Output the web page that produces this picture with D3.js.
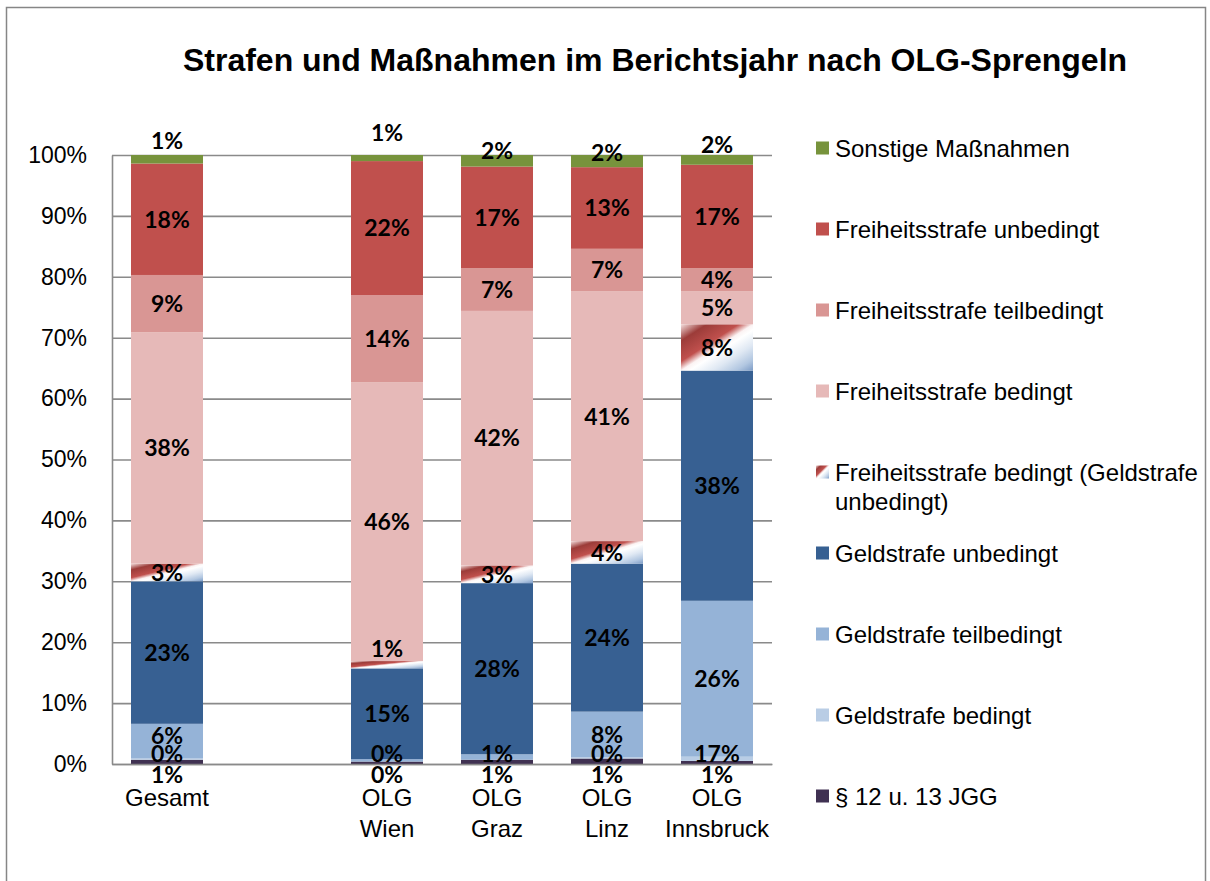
<!DOCTYPE html>
<html>
<head>
<meta charset="utf-8">
<script src="https://cdn.jsdelivr.net/npm/d3@7"></script>
<style>
  body { margin: 0; background: #fff; }
  #container { width: 1210px; height: 881px; }
</style>
</head>
<body>
<div id="container"></div>
<script>
// categories (one empty slot between Gesamt and the OLG bars)
const categories = ["Gesamt", "", "OLG Wien", "OLG Graz", "OLG Linz", "OLG Innsbruck"]
const bars = ["Gesamt", "OLG Wien", "OLG Graz", "OLG Linz", "OLG Innsbruck"]

// series values in %, bottom to top, one entry per bar
const jgg            = [0.7, 0.4, 0.7, 0.9, 0.5]
const geldBedingt    = [0.2, null, null, 0.2, 0.7]
const geldTeil       = [5.7, 0.4, 0.9, 7.5, 25.6]
const geldUnbedingt  = [23.4, 14.9, 28.1, 24.3, 37.8]
const fsBedGeldUnbed = [2.9, 1.2, 2.9, 3.7, 7.6]
const fsBedingt      = [38.0, 45.8, 41.8, 41.0, 5.4]
const fsTeil         = [9.4, 14.3, 7.0, 7.0, 3.8]
const fsUnbedingt    = [18.3, 22.0, 16.7, 13.4, 17.0]
const sonstige       = [1.4, 1.0, 1.9, 2.0, 1.6]

const seriesNames = [
  "§ 12 u. 13 JGG",
  "Geldstrafe bedingt",
  "Geldstrafe teilbedingt",
  "Geldstrafe unbedingt",
  "Freiheitsstrafe bedingt (Geldstrafe unbedingt)",
  "Freiheitsstrafe bedingt",
  "Freiheitsstrafe teilbedingt",
  "Freiheitsstrafe unbedingt",
  "Sonstige Maßnahmen"
]
const seriesValues = [jgg, geldBedingt, geldTeil, geldUnbedingt, fsBedGeldUnbed, fsBedingt, fsTeil, fsUnbedingt, sonstige]
const seriesColors = ["#403152", "#b9cde5", "#95b3d7", "#376092", "url(#mix)", "#e6b9b8", "#d99694", "#c0504d", "#77933c"]

// legend lines (top to bottom)
const legendLines = [
  ["Sonstige Maßnahmen"],
  ["Freiheitsstrafe unbedingt"],
  ["Freiheitsstrafe teilbedingt"],
  ["Freiheitsstrafe bedingt"],
  ["Freiheitsstrafe bedingt (Geldstrafe", "unbedingt)"],
  ["Geldstrafe unbedingt"],
  ["Geldstrafe teilbedingt"],
  ["Geldstrafe bedingt"],
  ["§ 12 u. 13 JGG"]
]

// label shown in the original that does not match its segment
const labelOverride = {"OLG Innsbruck|Geldstrafe bedingt": "17%"}

const yTicks = d3.range(0, 101, 10)

const width = 1210
const height = 881

const rows = bars.map((b, i) => {
  const r = {cat: b}
  seriesNames.forEach((s, j) => { r[s] = seriesValues[j][i] })
  return r
})

const svg = d3.select("#container")
    .append("svg")
    .attr("width", width)
    .attr("height", height)
    .style("font-family", "'Liberation Sans', Arial, sans-serif")

const defs = svg.append("defs")
const grad = defs.append("linearGradient")
    .attr("id", "mix")
    .attr("x1", 0).attr("y1", 0).attr("x2", 1).attr("y2", 1)
const stops = [
  [0, "#f3dedd"], [0.18, "#9c3c39"], [0.4, "#c0504d"], [0.5, "#fbf3f3"],
  [0.56, "#ffffff"], [0.72, "#dfe8f3"], [0.88, "#b2c7e1"], [1, "#7d9cc6"]
]
grad.selectAll("stop").data(stops).enter().append("stop")
    .attr("offset", d => d[0])
    .attr("stop-color", d => d[1])

// outer frame
svg.append("rect")
    .attr("x", 6.5).attr("y", 7.5)
    .attr("width", 1199).attr("height", 900)
    .attr("fill", "none")
    .attr("stroke", "#868686")
    .attr("stroke-width", 1.5)

svg.append("text")
    .attr("x", 655)
    .attr("y", 71)
    .attr("text-anchor", "middle")
    .style("font-size", "32px")
    .style("font-weight", "bold")
    .text("Strafen und Maßnahmen im Berichtsjahr nach OLG-Sprengeln")

const x = d3.scaleBand()
    .domain(categories)
    .range([112, 772])
    .paddingInner(0.3455)
    .paddingOuter(0.3455 / 2)

const y = d3.scaleLinear()
    .domain([0, 100])
    .range([764, 155])

// gridlines
svg.append("g")
    .attr("transform", "translate(112,0)")
    .call(d3.axisLeft(y).tickValues(yTicks).tickSize(-660).tickFormat(""))
    .call(g => g.select(".domain").remove())
    .call(g => g.selectAll("line").attr("stroke", "#8a8a8a").attr("stroke-width", 1.6))

svg.append("g")
    .attr("transform", "translate(112,0)")
    .call(d3.axisLeft(y).tickValues(yTicks).tickSize(0).tickPadding(25).tickFormat(d => d + "%"))
    .call(g => g.select(".domain").attr("stroke", "#8a8a8a").attr("stroke-width", 1.6))
    .call(g => g.selectAll("text")
        .style("font-size", "23px")
        .style("font-family", "'Liberation Sans', Arial, sans-serif")
        .attr("fill", "#000"))

const stack = d3.stack()
    .keys(seriesNames)
    .value((d, k) => d[k] || 0)
const stacked = stack(rows)

svg.append("g")
    .selectAll("g")
    .data(stacked)
    .enter().append("g")
    .attr("fill", (d, i) => seriesColors[i])
    .selectAll("rect")
    .data(d => d)
    .enter().append("rect")
    .attr("x", d => x(d.data.cat))
    .attr("y", d => y(d[1]))
    .attr("width", x.bandwidth())
    .attr("height", d => y(d[0]) - y(d[1]))

// bottom axis line
svg.append("g")
    .attr("transform", "translate(0,764)")
    .call(d3.axisBottom(x).tickSize(0).tickFormat(""))
    .call(g => g.select(".domain").attr("stroke", "#8a8a8a").attr("stroke-width", 1.6))

// category labels, "OLG" on its own line
const catLabels = svg.append("g")
    .selectAll("text")
    .data(bars)
    .enter().append("text")
    .attr("text-anchor", "middle")
    .attr("transform", d => "translate(" + (x(d) + x.bandwidth() / 2) + ",806)")
    .style("font-size", "24px")
catLabels.each(function(d) {
  const parts = d.split(" ")
  const t = d3.select(this)
  parts.forEach((p, i) => {
    t.append("tspan").attr("x", 0).attr("dy", i == 0 ? 0 : 31).text(p)
  })
})

// data labels
let labels = []
stacked.forEach((s, si) => {
  s.forEach(d => {
    const v = d.data[s.key]
    if (v == null) return
    const key = d.data.cat + "|" + s.key
    const h = y(d[0]) - y(d[1])
    let ly = y((d[0] + d[1]) / 2)
    // thin segment on top: label lifted above the bar
    if (si == seriesNames.length - 1) ly -= Math.max(0, 42 - 2.8 * h)
    // very thin mixed segment: label lifted
    if (si == 4 && h < 10) ly -= 16
    labels.push({cat: d.data.cat, series: si, text: labelOverride[key] || Math.round(v) + "%", y: ly})
  })
})
// bottom label sits below the axis, the ones above are pushed upward
bars.forEach(b => {
  const ls = labels.filter(l => l.cat == b).sort((a, c) => a.series - c.series)
  ls[0].y = y(0) + 11
  let limit = ls[0].y - 21
  for (let i = 1; i < ls.length; i++) {
    if (ls[i].y > limit) ls[i].y = limit
    limit = ls[i].y - 18
  }
})

svg.append("g")
    .selectAll("text")
    .data(labels)
    .enter().append("text")
    .attr("x", d => x(d.cat) + x.bandwidth() / 2)
    .attr("y", d => d.y)
    .attr("dy", "0.36em")
    .attr("text-anchor", "middle")
    .style("font-family", "Lato, 'Open Sans', sans-serif")
    .style("font-weight", "bold")
    .style("font-size", "23px")
    .attr("fill", "#000")
    .text(d => d.text)

// legend
const legend = svg.append("g")
    .selectAll("g")
    .data(legendLines)
    .enter().append("g")
    .attr("transform", (d, i) => "translate(816," + (148 + i * 81) + ")")

legend.append("rect")
    .attr("x", 0)
    .attr("y", -6.5)
    .attr("width", 13)
    .attr("height", 13)
    .attr("fill", (d, i) => seriesColors[seriesColors.length - 1 - i])

legend.append("text")
    .attr("x", 19)
    .style("font-size", "24px")
    .each(function(d) {
      const t = d3.select(this)
      d.forEach((line, i) => {
        t.append("tspan").attr("x", 19).attr("dy", i == 0 ? "0.36em" : 29).text(line)
      })
    })
</script>
</body>
</html>
